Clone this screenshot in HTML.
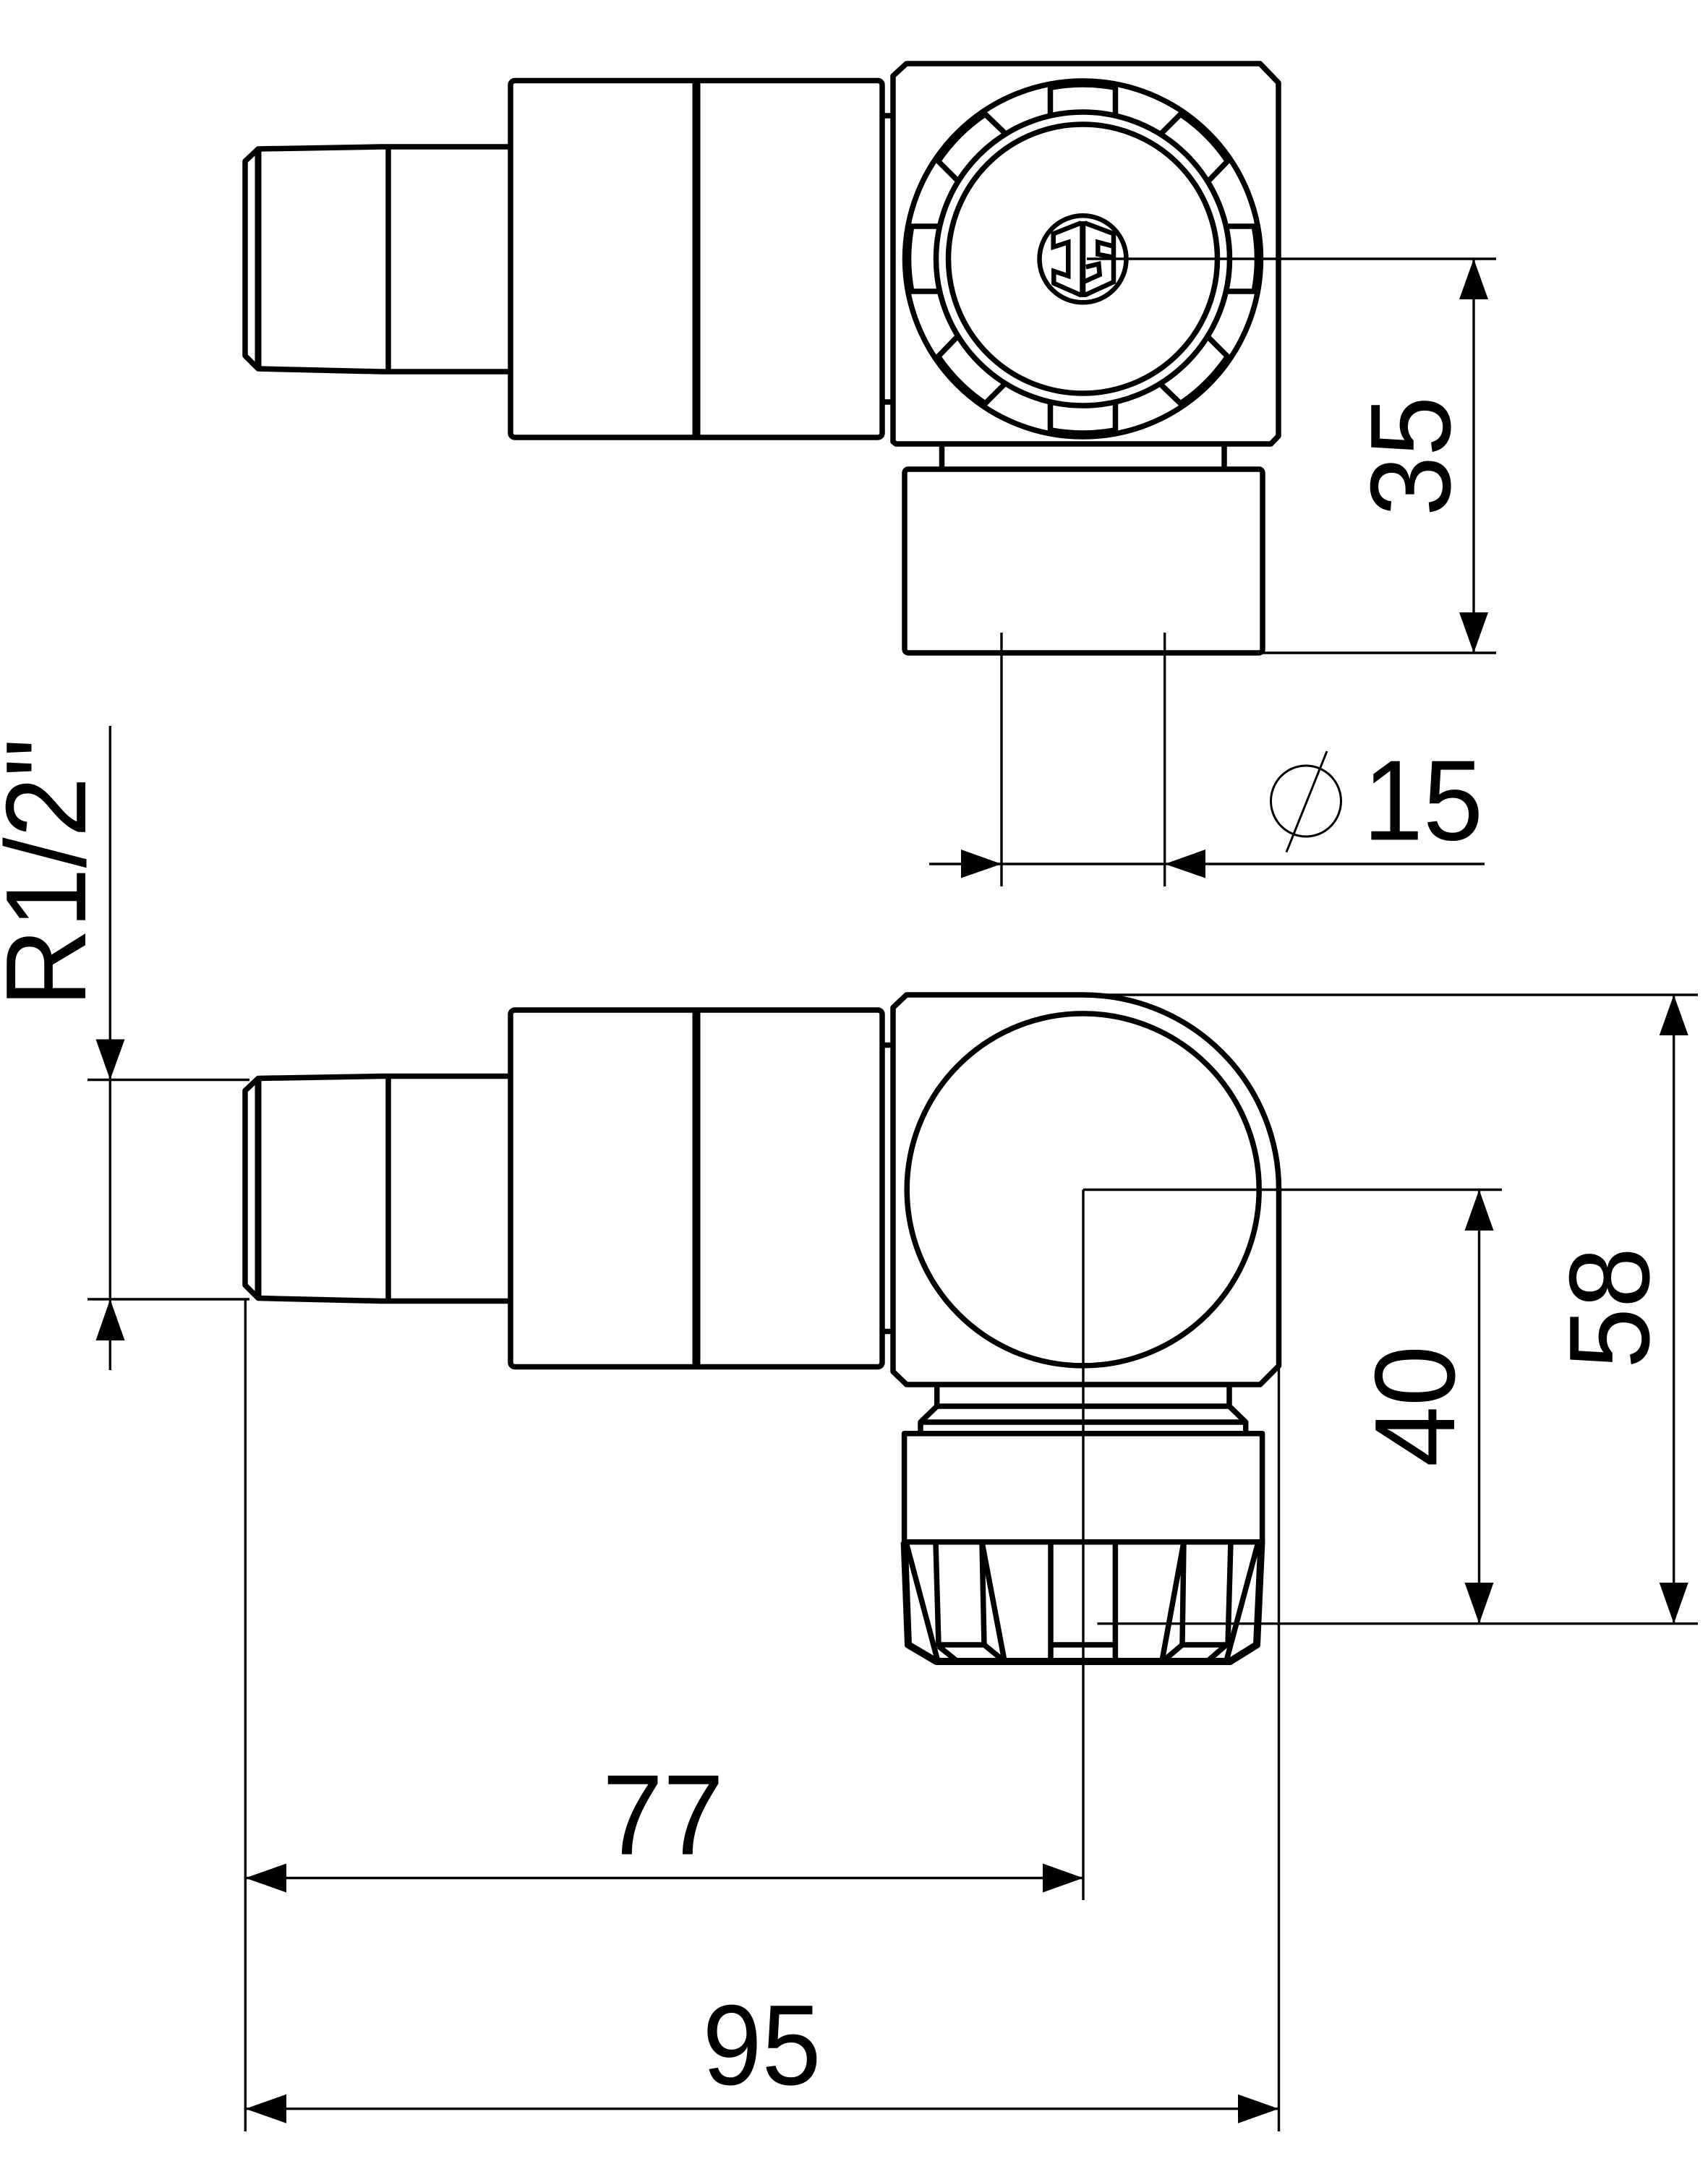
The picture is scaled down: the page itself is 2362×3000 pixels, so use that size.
<!DOCTYPE html>
<html>
<head>
<meta charset="utf-8">
<style>
html,body{margin:0;padding:0;background:#fff;}
svg{display:block;}
text{font-family:"Liberation Sans",sans-serif;fill:#000;}
.m{fill:none;stroke:#000;stroke-width:7.5;stroke-linejoin:round;stroke-linecap:butt;}
.d{fill:none;stroke:#000;stroke-width:3.4;}
.a{fill:#000;stroke:none;}
</style>
</head>
<body>
<svg xmlns="http://www.w3.org/2000/svg" width="2362" height="3000" viewBox="0 0 2362 3000">
<rect width="2362" height="3000" fill="#fff"/>

<!-- Side fitting (shared by both views) -->
<g id="upperFit">
  <rect class="m" x="706" y="111.5" width="514" height="493.5" rx="6"/>
  <line x1="963" y1="111" x2="963" y2="605" stroke="#000" stroke-width="11"/>
  <path class="m" d="M706 203 H527 L357 206 L339 223 V492 L357 510 L527 514 H706"/>
  <line x1="357" y1="206" x2="357" y2="510" stroke="#000" stroke-width="9"/>
  <line class="m" x1="537" y1="203" x2="537" y2="514"/>
  <line class="m" x1="1220" y1="160" x2="1235" y2="160"/>
  <line class="m" x1="1220" y1="556" x2="1235" y2="556"/>
</g>

<!-- Top view body -->
<path class="m" d="M1235 105 L1253.5 88 H1742.5 L1768 114.5 V603 L1757.5 614 H1239 L1235 611 Z"/>

<!-- Dial -->
<g transform="translate(1497.5 358)">
  <circle class="m" r="246"/>
  <circle class="m" r="203"/>
  <circle class="m" r="186"/>
  <g id="tabs">
    <line class="m" x1="-45" y1="-241" x2="-45" y2="-198"/>
    <line class="m" x1="45" y1="-241" x2="45" y2="-198"/>
    <path d="M-45 -239 A243 243 0 0 1 45 -239" fill="none" stroke="#000" stroke-width="12"/>
    <line class="m" x1="-136" y1="-201" x2="-109" y2="-175"/>
    <line class="m" x1="-201" y1="-136" x2="-173" y2="-108"/>
    <path d="M-201.5 -135.9 A243 243 0 0 1 -135.9 -201.5" fill="none" stroke="#000" stroke-width="11"/>
  </g>
  <g transform="rotate(90)">
    <line class="m" x1="-45" y1="-241" x2="-45" y2="-198"/>
    <line class="m" x1="45" y1="-241" x2="45" y2="-198"/>
    <path d="M-45 -239 A243 243 0 0 1 45 -239" fill="none" stroke="#000" stroke-width="12"/>
    <line class="m" x1="-136" y1="-201" x2="-109" y2="-175"/>
    <line class="m" x1="-201" y1="-136" x2="-173" y2="-108"/>
    <path d="M-201.5 -135.9 A243 243 0 0 1 -135.9 -201.5" fill="none" stroke="#000" stroke-width="11"/>
  </g>
  <g transform="rotate(180)">
    <line class="m" x1="-45" y1="-241" x2="-45" y2="-198"/>
    <line class="m" x1="45" y1="-241" x2="45" y2="-198"/>
    <path d="M-45 -239 A243 243 0 0 1 45 -239" fill="none" stroke="#000" stroke-width="12"/>
    <line class="m" x1="-136" y1="-201" x2="-109" y2="-175"/>
    <line class="m" x1="-201" y1="-136" x2="-173" y2="-108"/>
    <path d="M-201.5 -135.9 A243 243 0 0 1 -135.9 -201.5" fill="none" stroke="#000" stroke-width="11"/>
  </g>
  <g transform="rotate(270)">
    <line class="m" x1="-45" y1="-241" x2="-45" y2="-198"/>
    <line class="m" x1="45" y1="-241" x2="45" y2="-198"/>
    <path d="M-45 -239 A243 243 0 0 1 45 -239" fill="none" stroke="#000" stroke-width="12"/>
    <line class="m" x1="-136" y1="-201" x2="-109" y2="-175"/>
    <line class="m" x1="-201" y1="-136" x2="-173" y2="-108"/>
    <path d="M-201.5 -135.9 A243 243 0 0 1 -135.9 -201.5" fill="none" stroke="#000" stroke-width="11"/>
  </g>
</g>

<!-- Logo -->
<circle cx="1497.5" cy="358.3" r="60" fill="none" stroke="#000" stroke-width="6.5"/>
<line x1="1497.3" y1="306" x2="1497.3" y2="411" stroke="#000" stroke-width="8"/>
<path fill="none" stroke="#000" stroke-width="6.5" stroke-linejoin="miter" d="M1495 308.3 L1456.7 323.3 V341.7 L1477.3 335 V381.7 L1457.3 375 V391.7 L1495 408.3"/>
<path fill="none" stroke="#000" stroke-width="6.5" stroke-linejoin="miter" d="M1500 308.3 L1540 323.3 V390 L1500 408.3"/>
<path fill="none" stroke="#000" stroke-width="6.5" stroke-linejoin="miter" d="M1540 340.7 L1518.3 335 V351.7 L1540 356"/>
<path fill="none" stroke="#000" stroke-width="6.5" stroke-linejoin="miter" d="M1501.7 369.3 L1519.3 365 L1520.7 380 L1500 389.3"/>

<!-- Top view lower part -->
<line class="m" x1="1302.5" y1="614" x2="1302.5" y2="649"/>
<line class="m" x1="1693" y1="614" x2="1693" y2="649"/>
<rect class="m" x="1251" y="649" width="495" height="254" rx="5"/>

<!-- Lower view side fitting -->
<use href="#upperFit" transform="translate(0 1285.5)"/>

<!-- Lower view body -->
<path class="m" d="M1253.6 1376 H1497.5 A271 269 0 0 1 1768.5 1645 V1889 L1742.7 1915 H1253.6 L1235 1897 V1393.6 Z"/>
<circle class="m" cx="1497.7" cy="1645.4" r="243.5"/>

<!-- Neck -->
<path class="m" d="M1295.7 1915 V1945 H1700 V1915"/>
<path class="m" d="M1295.7 1945 L1273 1967 H1722.7 L1700 1945"/>
<line class="m" x1="1273" y1="1967" x2="1273" y2="1983"/>
<line class="m" x1="1722.7" y1="1967" x2="1722.7" y2="1983"/>
<rect class="m" x="1250.6" y="1982.7" width="495" height="150"/>

<!-- Knurled cap -->
<path fill="none" stroke="#000" stroke-width="10" stroke-linejoin="round" d="M1250.6 2132.7 L1256 2275 L1295 2298 H1701 L1738 2275 L1744.5 2132.7"/>
<path class="m" d="M1253 2133 L1297 2298"/>
<path class="m" d="M1294 2133 L1298 2275 H1361 L1358 2133"/>
<path class="m" d="M1358 2133 L1389 2297"/>
<path class="m" d="M1298 2277 L1323 2297"/>
<path class="m" d="M1361 2275 L1388 2297"/>
<line class="m" x1="1453" y1="2133" x2="1453" y2="2298"/>
<line class="m" x1="1542.4" y1="2133" x2="1542.4" y2="2298"/>
<line class="m" x1="1453" y1="2275" x2="1542.4" y2="2275"/>
<path class="m" d="M1637 2133 L1607 2297"/>
<path class="m" d="M1637 2133 L1635 2275 H1698 L1702 2133"/>
<path class="m" d="M1740 2133 L1696 2297"/>
<path class="m" d="M1635 2275 L1609 2297"/>
<path class="m" d="M1696 2275 L1670.5 2297"/>

<!-- Dimension lines: 35 -->
<line class="d" x1="1503" y1="358" x2="2069" y2="358"/>
<line class="d" x1="1746" y1="903" x2="2069" y2="903"/>
<line class="d" x1="2038" y1="358" x2="2038" y2="903"/>
<polygon class="a" points="2038,358 2018,414 2058,414"/>
<polygon class="a" points="2038,903 2018,847 2058,847"/>
<text transform="translate(2005 631) rotate(-90)" font-size="158" text-anchor="middle" textLength="166" lengthAdjust="spacingAndGlyphs">35</text>

<!-- Dia 15 -->
<line class="d" x1="1385" y1="875" x2="1385" y2="1226"/>
<line class="d" x1="1610.7" y1="875" x2="1610.7" y2="1226"/>
<line class="d" x1="1285" y1="1195" x2="2053" y2="1195"/>
<polygon class="a" points="1385,1195 1329,1175 1329,1214.5"/>
<polygon class="a" points="1610.7,1195 1667,1175 1667,1214.5"/>
<ellipse cx="1806" cy="1108" rx="48.5" ry="49" fill="none" stroke="#000" stroke-width="3"/>
<line x1="1835" y1="1039" x2="1779" y2="1178.6" stroke="#000" stroke-width="3"/>
<text x="1968" y="1161.5" font-size="158" text-anchor="middle" textLength="166" lengthAdjust="spacingAndGlyphs">15</text>

<!-- R1/2" -->
<line class="d" x1="152.3" y1="1004" x2="152.3" y2="1895"/>
<line class="d" x1="121" y1="1493.5" x2="345" y2="1493.5"/>
<line class="d" x1="121" y1="1797" x2="345" y2="1797"/>
<polygon class="a" points="152.3,1493.5 132.5,1437.5 172.5,1437.5"/>
<polygon class="a" points="152.3,1797 132.5,1854 172.5,1854"/>
<text transform="translate(118 1393) rotate(-90)" font-size="158" textLength="372" lengthAdjust="spacingAndGlyphs">R1/2"</text>

<!-- 40 / 58 -->
<line class="d" x1="1498" y1="1645.5" x2="2077" y2="1645.5"/>
<line class="d" x1="1517.5" y1="2245.7" x2="2348" y2="2245.7"/>
<line class="d" x1="1510" y1="1376" x2="2348" y2="1376"/>
<line class="d" x1="2045.5" y1="1645.5" x2="2045.5" y2="2245.7"/>
<polygon class="a" points="2045.5,1645.5 2025.5,1702 2065.5,1702"/>
<polygon class="a" points="2045.5,2245.7 2025.5,2189 2065.5,2189"/>
<line class="d" x1="2314.7" y1="1376" x2="2314.7" y2="2245.7"/>
<polygon class="a" points="2314.7,1376 2294.7,1432 2334.7,1432"/>
<polygon class="a" points="2314.7,2245.7 2294.7,2189 2334.7,2189"/>
<text transform="translate(2011 1945) rotate(-90)" font-size="158" text-anchor="middle" textLength="168" lengthAdjust="spacingAndGlyphs">40</text>
<text transform="translate(2280 1809) rotate(-90)" font-size="158" text-anchor="middle" textLength="168" lengthAdjust="spacingAndGlyphs">58</text>

<!-- 77 / 95 -->
<line class="d" x1="1498" y1="1645.5" x2="1498" y2="2628"/>
<line class="d" x1="339.3" y1="1797" x2="339.3" y2="2948"/>
<line class="d" x1="1768.5" y1="1889" x2="1768.5" y2="2948"/>
<line class="d" x1="339.3" y1="2597.5" x2="1498" y2="2597.5"/>
<line class="d" x1="339.3" y1="2916.7" x2="1768.5" y2="2916.7"/>
<polygon class="a" points="339.3,2597.5 396,2577.5 396,2617.5"/>
<polygon class="a" points="1498,2597.5 1442,2577.5 1442,2617.5"/>
<polygon class="a" points="339.3,2916.7 396,2896.7 396,2936.7"/>
<polygon class="a" points="1768.5,2916.7 1712,2896.7 1712,2936.7"/>
<text x="917" y="2564.6" font-size="158" text-anchor="middle" textLength="168" lengthAdjust="spacingAndGlyphs">77</text>
<text x="1053.5" y="2883" font-size="158" text-anchor="middle" textLength="164" lengthAdjust="spacingAndGlyphs">95</text>
</svg>
</body>
</html>
